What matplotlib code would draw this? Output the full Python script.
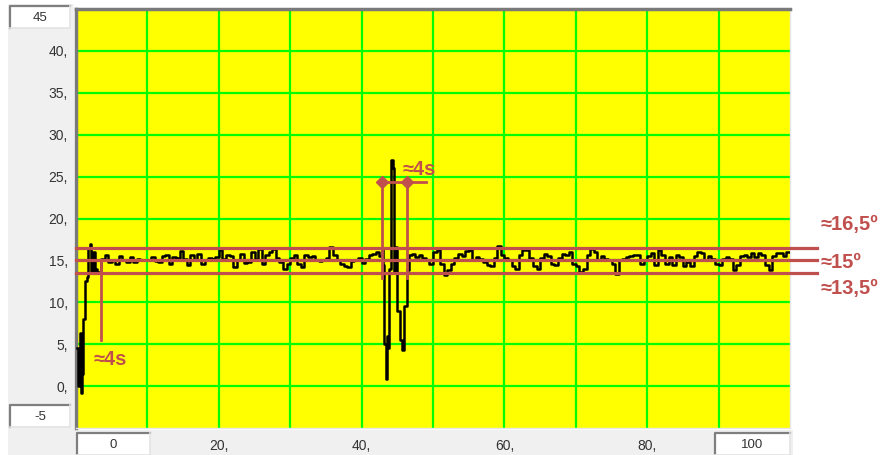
import numpy as np
import matplotlib.pyplot as plt
from matplotlib.patches import Rectangle

plt.rcParams["font.family"] = ["Liberation Sans", "DejaVu Sans"]

# ---- data ----
start_t = [0.2, 0.35, 0.5, 0.7, 0.85, 1.0, 1.3, 1.5, 1.7, 1.9, 2.1, 2.4, 2.6, 2.8]
start_v = [4.5, 0.0, 6.3, -0.8, 1.5, 8.0, 12.5, 13.0, 16.5, 17.0, 13.5, 16.0, 13.5, 14.0]

# steady part, one sample every 0.5 s from t = 3.0 to 42.5
calm_v = [13.6, 15.2, 15.7, 14.8, 15.0, 14.6, 15.5, 15.0, 14.8, 15.4,
          14.8, 15.2, 15.1, 15.0, 15.0, 15.4, 14.9, 14.8, 15.5, 15.7,
          14.6, 15.4, 15.3, 16.1, 15.2, 14.5, 15.6, 15.0, 15.8, 14.6,
          15.0, 15.3, 15.2, 15.4, 16.2, 15.2, 15.7, 15.5, 14.2, 15.0,
          15.8, 14.7, 14.8, 16.0, 15.2, 16.4, 14.6, 15.6, 16.0, 16.4,
          15.3, 14.8, 14.0, 14.6, 15.3, 15.7, 14.6, 14.2, 15.7, 15.4,
          15.5, 15.1, 14.9, 15.0, 15.3, 16.6, 15.7, 15.1, 14.6, 14.3,
          14.2, 14.9, 15.1, 15.3, 14.7, 15.2, 15.7, 15.8, 16.0, 15.5]

spike_t = [42.8, 43.0, 43.2, 43.35, 43.5, 43.7, 43.9, 44.15, 44.35,
           44.55, 44.8, 45.0, 45.4, 45.7, 46.0, 46.3, 46.6]
spike_v = [16.2, 14.5, 5.0, 0.8, 6.0, 4.5, 14.0, 27.0, 26.0,
           13.5, 16.6, 9.0, 5.5, 4.3, 9.5, 13.8, 15.6]

# steady part, one sample every 0.5 s from t = 47.0 to 100.0
tail_v = [15.8, 15.4, 15.6, 15.3, 15.1, 14.6, 16.0, 16.2, 14.6, 13.2,
          13.8, 14.6, 15.3, 15.8, 15.5, 16.1, 16.2, 15.1, 15.4, 15.2,
          14.8, 14.5, 14.3, 15.3, 16.7, 15.6, 15.3, 15.1, 14.3, 14.0,
          15.6, 16.2, 16.3, 15.3, 14.3, 14.0, 15.3, 15.8, 15.5, 14.6,
          14.4, 15.3, 15.8, 15.6, 16.0, 14.6, 14.3, 13.6, 14.0, 15.7,
          16.4, 16.0, 15.1, 15.5, 15.2, 15.0, 14.6, 13.4, 15.0, 15.2,
          15.4, 15.5, 15.6, 15.7, 14.6, 15.0, 15.5, 15.9, 14.4, 16.3,
          15.7, 14.6, 15.4, 14.5, 15.7, 15.4, 14.3, 14.8, 14.3, 15.5,
          16.0, 15.9, 15.0, 15.5, 15.2, 14.6, 14.4, 15.2, 15.4, 15.2,
          13.9, 14.4, 15.5, 15.7, 15.4, 15.9, 15.4, 15.9, 15.7, 14.4,
          13.9, 15.5, 15.9, 15.9, 15.5, 16.0, 16.0]

band_levels = [16.5, 15.0, 13.5]
band_labels = ["≈16,5º", "≈15º", "≈13,5º"]

calm_t = list(np.arange(len(calm_v)) * 0.5 + 3.0)
tail_t = list(np.arange(len(tail_v)) * 0.5 + 47.0)
t = start_t + calm_t + spike_t + tail_t
angle = start_v + calm_v + spike_v + tail_v

RED = "#C0504D"

fig = plt.figure(figsize=(8.89, 4.55), dpi=100)
fig.patch.set_facecolor("white")

# background in pixel coordinates: grey panels and the min/max boxes
bg = fig.add_axes([0, 0, 1, 1], zorder=0)
bg.set_xlim(0, 889)
bg.set_ylim(455, 0)
bg.axis("off")
bg.add_patch(Rectangle((8, 4), 66, 428, facecolor="#F0F0F0", edgecolor="none"))
bg.add_patch(Rectangle((8, 430), 785, 25, facecolor="#F0F0F0", edgecolor="none"))


def sunken_box(x0, y0, w, h, label):
    bg.add_patch(Rectangle((x0, y0), w, h, facecolor="white", edgecolor="none"))
    bg.plot([x0, x0, x0 + w], [y0 + h, y0, y0], color="#7F7F7F", lw=1.6)
    bg.plot([x0, x0 + w, x0 + w], [y0 + h, y0 + h, y0], color="#E3E3E3", lw=1.2)
    bg.text(x0 + w / 2, y0 + h / 2 + 1, label, ha="center", va="center",
            fontsize=9.5, color="#333333")


sunken_box(10, 6, 60, 22, "45")
sunken_box(10, 405, 60, 22, "-5")
sunken_box(77, 433, 73, 22, "0")
sunken_box(715, 433, 75, 22, "100")

# ---- main plot ----
ax = fig.add_axes([76 / 889, 1 - 428 / 455, 714 / 889, 419 / 455], zorder=1)
ax.set_facecolor("#FFFF00")
ax.set_xlim(0, 100)
ax.set_ylim(-5, 45)
ax.set_axisbelow(True)

ax.set_yticks(range(0, 45, 5))
ax.set_yticklabels([f"{v}," for v in range(0, 45, 5)])
ax.set_xticks(range(10, 100, 10))
ax.set_xticklabels([f"{v}," if v % 20 == 0 else "" for v in range(10, 100, 10)])
ax.tick_params(length=0, labelsize=10, labelcolor="#333333")
ax.tick_params(axis="y", pad=6)
ax.tick_params(axis="x", pad=8)
ax.grid(color="#00FF00", lw=1.6)

for side in ["left", "top"]:
    ax.spines[side].set_color("#7A7A7A")
    ax.spines[side].set_linewidth(2.5)
for side in ["right", "bottom"]:
    ax.spines[side].set_color("#E6E6E6")
    ax.spines[side].set_linewidth(1)

ax.plot(t, angle, color="black", lw=1.8, drawstyle="steps-post", zorder=3)

# tolerance band lines, running out past the plot to the labels
for lev, lab, dy in zip(band_levels, band_labels, [2.8, -0.2, -1.8]):
    ax.plot([0, 103.8], [lev, lev], color=RED, lw=2.3, clip_on=False, zorder=4)
    ax.text(104.3, lev + dy, lab, color=RED, fontsize=14.5, fontweight="bold",
            ha="left", va="center", clip_on=False)

# settling time marker at start
ax.plot([3.5, 3.5], [15.0, 5.5], color=RED, lw=2, zorder=4)
ax.text(2.5, 3.2, "≈4s", color=RED, fontsize=14.5, fontweight="bold",
        ha="left", va="center")

# disturbance recovery marker
ax.plot([42.9, 42.9], [24.3, 12.9], color=RED, lw=2, zorder=4)
ax.plot([46.4, 46.4], [24.3, 12.9], color=RED, lw=2, zorder=4)
ax.plot([42.9, 49.0], [24.3, 24.3], color=RED, lw=2, zorder=4)
ax.plot([42.9, 46.4], [24.3, 24.3], linestyle="none", marker="D",
        markersize=6, color=RED, zorder=5)
ax.text(45.8, 25.9, "≈4s", color=RED, fontsize=14.5, fontweight="bold",
        ha="left", va="center")

fig.savefig("out.png", dpi=100, facecolor="white")
